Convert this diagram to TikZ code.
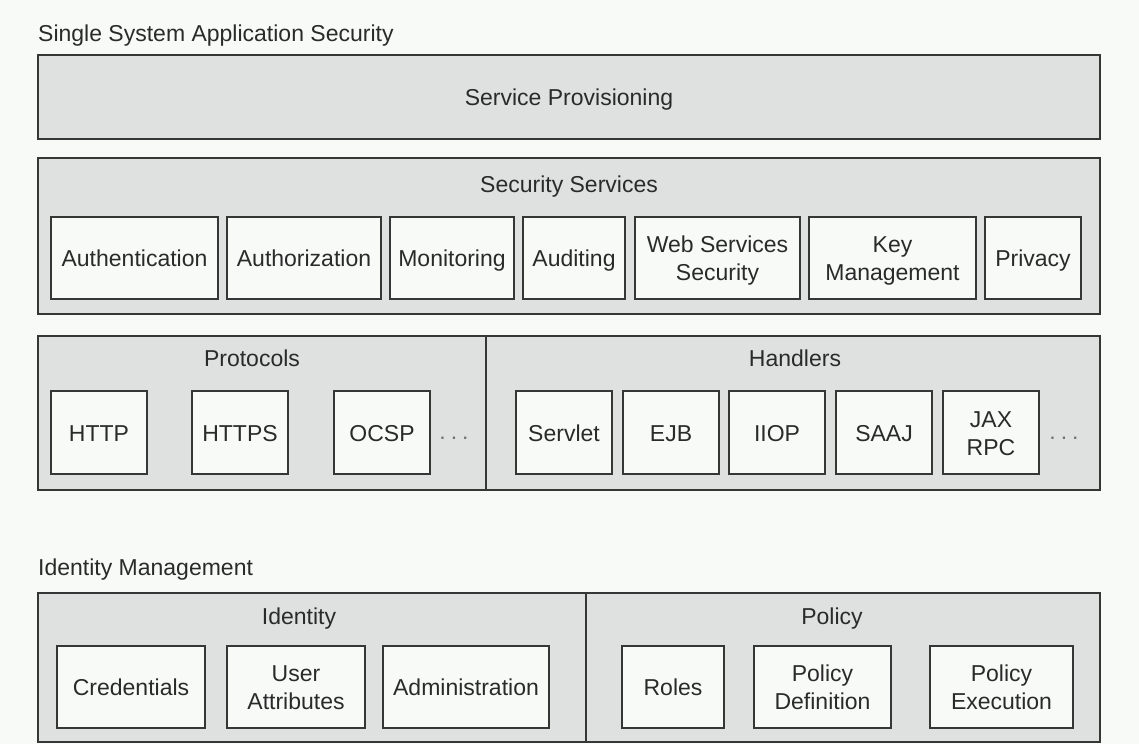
\documentclass[tikz,border=0pt]{standalone}
\usepackage{fontspec}
\setmainfont{Liberation Sans}

\definecolor{paper}{HTML}{F7FAF7}
\definecolor{panelfill}{HTML}{DFE1E0}
\definecolor{cellfill}{HTML}{F8FAF8}
\definecolor{ink}{HTML}{363636}
\definecolor{txt}{HTML}{2A2A2A}

\newcommand\lbl{\fontsize{23}{28}\selectfont}
% strut that keeps every line the same height, so labels line up
\newcommand\capstrut{\rule[-3.5pt]{0pt}{24.5pt}}
% \rectnode{style}{name}{x1}{x2}{y1}{y2}{text}: box spanning x1..x2, y1..y2
\newcommand\rectnode[7]{%
  \node[#1, minimum width={#4-#3}, minimum height={#6-#5}] (#2)
    at ({(#3+#4)/2},{(#5+#6)/2}) {\capstrut#7};}

\begin{document}
\begin{tikzpicture}[x=1pt,y=-1pt,
  panel/.style={draw=ink, fill=panelfill, line width=1.5pt, inner sep=0pt,
                font=\lbl, text=txt},
  cell/.style={draw=ink, fill=cellfill, line width=1.5pt, inner sep=0pt,
               align=center, font=\lbl, text=txt},
  caption/.style={inner sep=0pt, font=\lbl, text=txt,
                  execute at begin node=\capstrut},
  more/.style={inner sep=0pt, font=\lbl, text=ink!70},
]
\fill[paper] (0,0) rectangle (1139,744);
\useasboundingbox (0,0) rectangle (1139,744);

% ---- Single system application security ----
\node[caption, anchor=west] (ssas) at (38,33) {Single System Application Security};

\rectnode{panel}{prov}{38}{1100}{55}{139}{Service Provisioning}

\rectnode{panel}{secsvc}{38}{1100}{158}{314}{}
\node[caption] (secsvclbl) at (569,184) {Security Services};
\rectnode{cell}{auth}{51}{218}{217}{299}{Authentication}
\rectnode{cell}{authz}{227}{381}{217}{299}{Authorization}
\rectnode{cell}{mon}{390}{514}{217}{299}{Monitoring}
\rectnode{cell}{aud}{523}{625}{217}{299}{Auditing}
\rectnode{cell}{wss}{635}{800}{217}{299}{Web Services\\\capstrut Security}
\rectnode{cell}{keym}{809}{976}{217}{299}{Key\\\capstrut Management}
\rectnode{cell}{priv}{985}{1081}{217}{299}{Privacy}

% ---- Protocols and handlers ----
\rectnode{panel}{proto}{38}{486}{336}{490}{}
\rectnode{panel}{hand}{486}{1100}{336}{490}{}
\node[caption] (protolbl) at (252,358) {Protocols};
\node[caption] (handlbl) at (795,358) {Handlers};

\rectnode{cell}{http}{51}{147}{391}{474}{HTTP}
\rectnode{cell}{https}{192}{288}{391}{474}{HTTPS}
\rectnode{cell}{ocsp}{334}{430}{391}{474}{OCSP}
\node[more] (pdots) at (454,438) {.\hspace{5pt}.\hspace{5pt}.};

\rectnode{cell}{servlet}{516}{612}{391}{474}{Servlet}
\rectnode{cell}{ejb}{623}{719}{391}{474}{EJB}
\rectnode{cell}{iiop}{729}{825}{391}{474}{IIOP}
\rectnode{cell}{saaj}{836}{932}{391}{474}{SAAJ}
\rectnode{cell}{jaxrpc}{943}{1039}{391}{474}{JAX\\\capstrut RPC}
\node[more] (hdots) at (1064,438) {.\hspace{5pt}.\hspace{5pt}.};

% ---- Identity management ----
\node[caption, anchor=west] (idm) at (38,567) {Identity Management};

\rectnode{panel}{ident}{38}{586}{593}{742}{}
\rectnode{panel}{policy}{586}{1100}{593}{742}{}
\node[caption] (identlbl) at (299,616) {Identity};
\node[caption] (policylbl) at (832,616) {Policy};

\rectnode{cell}{cred}{57}{205}{646}{728}{Credentials}
\rectnode{cell}{uattr}{227}{365}{646}{728}{User\\\capstrut Attributes}
\rectnode{cell}{admin}{383}{549}{646}{728}{Administration}
\rectnode{cell}{roles}{622}{724}{646}{728}{Roles}
\rectnode{cell}{pdef}{754}{891}{646}{728}{Policy\\\capstrut Definition}
\rectnode{cell}{pexec}{930}{1073}{646}{728}{Policy\\\capstrut Execution}
\end{tikzpicture}
\end{document}
